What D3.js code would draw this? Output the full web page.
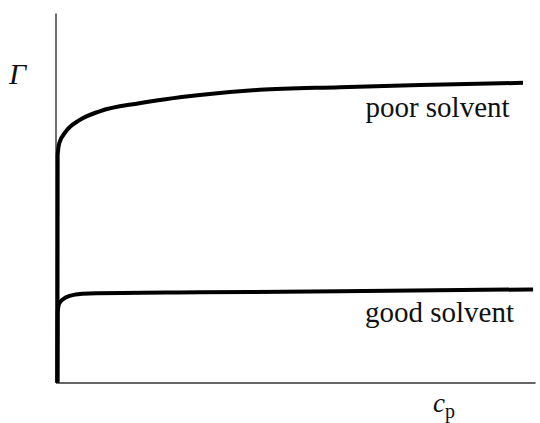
<!DOCTYPE html>
<html>
<head>
<meta charset="utf-8">
<script src="https://cdn.jsdelivr.net/npm/d3@7"></script>
<style>
  html, body { margin: 0; padding: 0; background: #fff; }
  svg { display: block; }
  .serif { font-family: "Liberation Serif", "Times New Roman", Tinos, "DejaVu Serif", serif; fill: #111; }
</style>
</head>
<body>
<svg id="chart" width="540" height="423"></svg>
<script>
// Adsorbed amount Γ versus polymer concentration c_p (schematic, arbitrary units)
const poorCp    = [0.040, 0.045, 0.08, 0.21, 0.50, 0.92, 1.75, 3.01, 4.26, 5.93, 7.60, 9.75];
const poorGamma = [0.00, 6.15, 6.48, 6.78, 7.10, 7.34, 7.56, 7.78, 7.92, 7.99, 8.05, 8.11];

const goodCp    = [0.040, 0.045, 0.08, 0.21, 0.42, 0.71, 3.01, 5.93, 9.96];
const goodGamma = [0.00, 1.90, 2.14, 2.30, 2.38, 2.41, 2.44, 2.47, 2.52];

const seriesLabels = ["poor solvent", "good solvent"];

const svg = d3.select("#chart");
const x = d3.scaleLinear().domain([0, 10]).range([55.5, 535]);
const y = d3.scaleLinear().domain([0, 10]).range([382.5, 13]);

// axes: plain lines, no ticks
const xAxis = d3.axisBottom(x).tickValues([]).tickSizeOuter(0);
const yAxis = d3.axisLeft(y).tickValues([]).tickSizeOuter(0);
svg.append("g").attr("transform", `translate(0,${y(0)})`).call(xAxis)
  .select(".domain").attr("stroke", "#333").attr("stroke-width", 1.6);
svg.append("g").attr("transform", `translate(${x(0)},0)`).call(yAxis)
  .select(".domain").attr("stroke", "#222").attr("stroke-width", 1.3);

const line = d3.line()
  .x(d => x(d[0]))
  .y(d => y(d[1]))
  .curve(d3.curveMonotoneX);

const series = [
  d3.zip(poorCp, poorGamma),
  d3.zip(goodCp, goodGamma)
];

svg.selectAll("path.curve").data(series).join("path")
  .attr("class", "curve")
  .attr("d", line)
  .attr("fill", "none")
  .attr("stroke", "#000")
  .attr("stroke-width", 4)
  .attr("stroke-linecap", "butt");

svg.append("text").attr("class", "serif").attr("x", 437.5).attr("y", 117)
  .attr("text-anchor", "middle").attr("font-size", 29)
  .text(seriesLabels[0]);
svg.append("text").attr("class", "serif").attr("x", 439.5).attr("y", 322)
  .attr("text-anchor", "middle").attr("font-size", 29)
  .text(seriesLabels[1]);

// axis titles
svg.append("text").attr("class", "serif").attr("x", 9).attr("y", 84)
  .attr("font-style", "italic").attr("font-size", 30)
  .text("Γ");
const xt = svg.append("text").attr("class", "serif").attr("x", 433).attr("y", 412)
  .attr("font-size", 27);
xt.append("tspan").attr("font-style", "italic").text("c");
xt.append("tspan").attr("dy", 6).attr("font-size", 20).text("p");
</script>
</body>
</html>
